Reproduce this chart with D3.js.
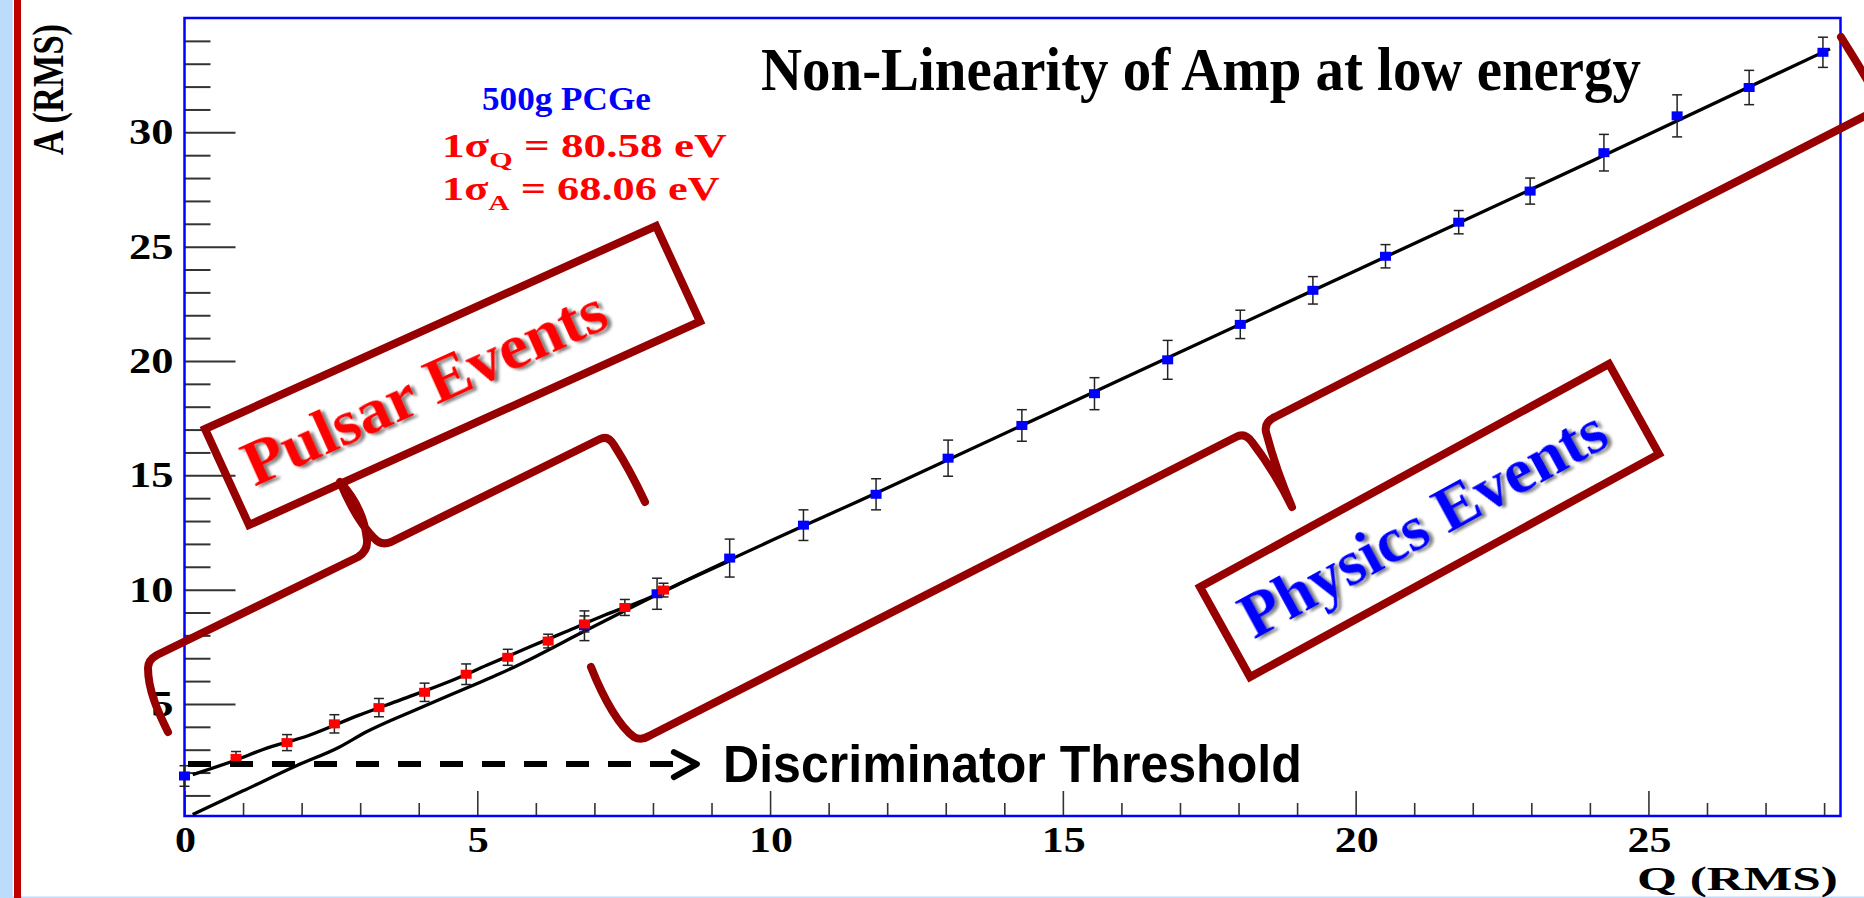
<!DOCTYPE html>
<html><head><meta charset="utf-8">
<script src="https://cdn.jsdelivr.net/npm/d3@7"></script>
<style>html,body{margin:0;padding:0;background:#fff;overflow:hidden}</style>
</head><body><svg id="c" width="1864" height="898"></svg>
<script>
// ---------------- data ----------------
const blueQ   = [0, 6.83, 8.07, 9.31, 10.57, 11.81, 13.04, 14.30, 15.54, 16.79, 18.03, 19.27, 20.51, 21.76, 22.98, 24.24, 25.49, 26.72, 27.98];
const blueA   = [1.85, 8.42, 9.82, 11.38, 12.82, 14.17, 15.75, 17.18, 18.57, 20.05, 21.60, 23.09, 24.58, 26.07, 27.43, 29.11, 30.72, 31.96, 33.50];
const blueErr = [0.45, 0.65, 0.68, 0.83, 0.67, 0.68, 0.79, 0.69, 0.70, 0.85, 0.62, 0.60, 0.51, 0.51, 0.57, 0.80, 0.92, 0.75, 0.66];

const redQ   = [0.88, 1.75, 2.56, 3.32, 4.10, 4.81, 5.52, 6.21, 6.83, 7.52, 8.18];
const redA   = [2.62, 3.31, 4.13, 4.84, 5.51, 6.30, 7.04, 7.75, 8.50, 9.22, 9.98];
const redErr = [0.30, 0.35, 0.40, 0.40, 0.40, 0.45, 0.35, 0.30, 0.35, 0.35, 0.30];

const physFitQ = [0.14, 1.0, 1.92, 2.64, 3.1, 4.0, 4.93, 5.39, 6.0, 6.76, 8.16, 12.0, 16.0, 20.0, 24.0, 28.1];
const physFitA = [0.17, 1.2, 2.31, 3.11, 3.77, 4.8, 5.82, 6.33, 7.08, 8.09, 9.90, 14.45, 19.2, 23.95, 28.7, 33.65];

const pulsFitQ = [0.14, 0.88, 1.33, 2.12, 2.97, 3.70, 4.50, 5.17, 5.90, 6.51, 7.18, 7.85, 8.63, 9.30];
const pulsFitA = [1.91, 2.55, 3.00, 3.62, 4.50, 5.19, 5.96, 6.70, 7.50, 8.16, 8.89, 9.55, 10.46, 11.25];

const xTickValues = [0, 5, 10, 15, 20, 25];
const xTickLabels = ["0", "5", "10", "15", "20", "25"];
const yTickValues = [5, 10, 15, 20, 25, 30];
const yTickLabels = ["5", "10", "15", "20", "25", "30"];

const thresholdA = 2.37;
const thresholdQ = [0.06, 8.75];

const titleText = "Non-Linearity of Amp at low energy";
const xTitle = "Q (RMS)";
const yTitle = "A (RMS)";
const detectorLabel = "500g PCGe";
const sigmaQ = ["1σ", "Q", " = 80.58 eV"];
const sigmaA = ["1σ", "A", " = 68.06 eV"];
const pulsarLabel = "Pulsar Events";
const physicsLabel = "Physics Events";
const thresholdLabel = "Discriminator Threshold";

// ---------------- drawing ----------------
const svg = d3.select("#c");
const serif = "'Liberation Serif','Times New Roman',serif";
const sans = "'Liberation Sans',Arial,sans-serif";
const darkRed = "#960000";

const x = d3.scaleLinear().domain([0, 28.28]).range([184.5, 1840.5]);
const y = d3.scaleLinear().domain([0.1, 35]).range([816, 18]);

function fitText(t, left, width) {
  const b = t.node().getBBox();
  const k = width / b.width;
  t.attr("transform", `translate(${left},0) scale(${k},1) translate(${-b.x},0)`);
}

const defs = svg.append("defs");
const f = defs.append("filter").attr("id", "shadow").attr("x", "-10%").attr("y", "-20%").attr("width", "130%").attr("height", "150%");
f.append("feDropShadow").attr("dx", 3).attr("dy", 3).attr("stdDeviation", 1.6)
  .attr("flood-color", "#555").attr("flood-opacity", 0.75);

// page decorations
svg.append("rect").attr("x", 0).attr("y", 0).attr("width", 1864).attr("height", 898).attr("fill", "#fff");
svg.append("rect").attr("x", 0).attr("y", 0).attr("width", 12.7).attr("height", 898).attr("fill", "#bddcfb");
svg.append("rect").attr("x", 0).attr("y", 896.5).attr("width", 1864).attr("height", 1.5).attr("fill", "#bddcfb");
svg.append("rect").attr("x", 14).attr("y", 0).attr("width", 7).attr("height", 898).attr("fill", "#c00000");

// axes ticks (inside the frame)
const tickCol = "#333";
function styleAxis(g, w) {
  g.select(".domain").remove();
  g.selectAll("text").remove();
  g.selectAll("line").attr("stroke", tickCol).attr("stroke-width", w);
}
const yMinor = d3.range(1, 35).filter(v => v % 5 !== 0);
svg.append("g").attr("transform", `translate(${x.range()[0]},0)`)
  .call(d3.axisRight(y).tickValues(yMinor).tickSize(26)).call(g => styleAxis(g, 2));
svg.append("g").attr("transform", `translate(${x.range()[0]},0)`)
  .call(d3.axisRight(y).tickValues(yTickValues).tickSize(51)).call(g => styleAxis(g, 2));
const xMinor = d3.range(1, 29).filter(v => v % 5 !== 0);
svg.append("g").attr("transform", `translate(0,${y.range()[0]})`)
  .call(d3.axisTop(x).tickValues(xMinor).tickSize(13)).call(g => styleAxis(g, 1.6));
svg.append("g").attr("transform", `translate(0,${y.range()[0]})`)
  .call(d3.axisTop(x).tickValues(xTickValues).tickSize(25)).call(g => styleAxis(g, 1.6));

// frame
svg.append("rect").attr("x", x.range()[0]).attr("y", y.range()[1])
  .attr("width", x.range()[1] - x.range()[0]).attr("height", y.range()[0] - y.range()[1])
  .attr("fill", "none").attr("stroke", "#0000ff").attr("stroke-width", 2.5);

// tick labels
yTickValues.forEach((v, i) => {
  const t = svg.append("text").attr("x", 0).attr("y", y(v) + 12)
    .attr("font-family", serif).attr("font-weight", "bold").attr("font-size", 35)
    .attr("fill", "#000").text(yTickLabels[i]);
  const w = yTickLabels[i].length === 1 ? 22 : 44.5;
  fitText(t, 173.5 - w, w);
});
xTickValues.forEach((v, i) => {
  const t = svg.append("text").attr("x", 0).attr("y", 852)
    .attr("font-family", serif).attr("font-weight", "bold").attr("font-size", 35)
    .attr("fill", "#000").text(xTickLabels[i]);
  const w = xTickLabels[i].length === 1 ? 21 : 44;
  fitText(t, x(v) + 1 - w / 2, w);
});

// axis titles
{
  const t = svg.append("text").attr("x", 0).attr("y", 890)
    .attr("font-family", serif).attr("font-weight", "bold").attr("font-size", 33).text(xTitle);
  fitText(t, 1637, 201);
}
svg.append("text")
  .attr("transform", "translate(63,155) scale(1.27,1) rotate(-90)")
  .attr("font-family", serif).attr("font-weight", "bold").attr("font-size", 35)
  .attr("textLength", 131).attr("lengthAdjust", "spacingAndGlyphs").text(yTitle);

// fit curves
const line = d3.line().x(d => x(d[0])).y(d => y(d[1])).curve(d3.curveMonotoneX);
svg.append("path").attr("d", line(physFitQ.map((q, i) => [q, physFitA[i]])))
  .attr("fill", "none").attr("stroke", "#000").attr("stroke-width", 3.3);
svg.append("path").attr("d", line(pulsFitQ.map((q, i) => [q, pulsFitA[i]])))
  .attr("fill", "none").attr("stroke", "#000").attr("stroke-width", 3.3);

// error bars + markers
function series(Q, A, E, color) {
  const g = svg.append("g");
  Q.forEach((q, i) => {
    const cx = x(q), y1 = y(A[i] + E[i]), y2 = y(A[i] - E[i]);
    g.append("line").attr("x1", cx).attr("x2", cx).attr("y1", y1).attr("y2", y2).attr("stroke", "#222").attr("stroke-width", 1.5);
    g.append("line").attr("x1", cx - 5).attr("x2", cx + 5).attr("y1", y1).attr("y2", y1).attr("stroke", "#222").attr("stroke-width", 1.5);
    g.append("line").attr("x1", cx - 5).attr("x2", cx + 5).attr("y1", y2).attr("y2", y2).attr("stroke", "#222").attr("stroke-width", 1.5);
  });
  Q.forEach((q, i) => {
    g.append("rect").attr("x", x(q) - 5.5).attr("y", y(A[i]) - 4.5).attr("width", 11).attr("height", 9).attr("fill", color);
  });
}
series(blueQ, blueA, blueErr, "#0000ff");
series(redQ, redA, redErr, "#ff0000");

// discriminator threshold arrow
{
  const ty = y(thresholdA);
  const x0 = x(thresholdQ[0]), x1 = x(thresholdQ[1]);
  svg.append("line").attr("x1", x0).attr("x2", x1 - 4).attr("y1", ty).attr("y2", ty)
    .attr("stroke", "#000").attr("stroke-width", 6).attr("stroke-dasharray", "23,19");
  svg.append("path").attr("d", `M${x1 - 23},${ty - 12} L${x1},${ty} L${x1 - 23},${ty + 13}`)
    .attr("fill", "none").attr("stroke", "#000").attr("stroke-width", 6)
    .attr("stroke-linecap", "round").attr("stroke-linejoin", "round");
  const t = svg.append("text").attr("x", 0).attr("y", 782)
    .attr("font-family", sans).attr("font-weight", "bold").attr("font-size", 51).text(thresholdLabel);
  fitText(t, 723, 579);
}

// text annotations in the plot
{
  const t = svg.append("text").attr("x", 0).attr("y", 90)
    .attr("font-family", serif).attr("font-weight", "bold").attr("font-size", 61).text(titleText);
  fitText(t, 761, 880);
  const d = svg.append("text").attr("x", 0).attr("y", 110).attr("fill", "#0000ff")
    .attr("font-family", serif).attr("font-weight", "bold").attr("font-size", 34).text(detectorLabel);
  fitText(d, 482, 169);
  [[sigmaQ, 157, 285], [sigmaA, 200, 278]].forEach(([parts, base, w]) => {
    const s = svg.append("text").attr("x", 0).attr("y", base).attr("fill", "#ff0000")
      .attr("font-family", serif).attr("font-weight", "bold").attr("font-size", 33);
    s.append("tspan").text(parts[0]);
    s.append("tspan").attr("dy", 10).attr("font-size", 22).text(parts[1]);
    s.append("tspan").attr("dy", -10).text(parts[2]);
    fitText(s, 442, w);
  });
}

// annotation boxes & braces (overlay layout, in pixels)
const pulsarBox = [[205, 429], [656, 226], [700, 321.5], [249, 525]];
const physicsBox = [[1200, 587], [1609, 364], [1659, 454], [1250, 677]];
[pulsarBox, physicsBox].forEach(b => {
  svg.append("path").attr("d", "M" + b.map(p => p.join(",")).join("L") + "Z")
    .attr("fill", "none").attr("stroke", darkRed).attr("stroke-width", 8).attr("stroke-linejoin", "miter");
});
const pulsarBrace = "M168,732 C158,712 148,690 148,668 Q148,660 157,655 L358,557 Q368,551 367,540 Q364,508 340,482 Q356,520 374,538 Q381,546 391,542 L600,439 Q608,435 614,445 Q630,470 645,502";
const physicsBrace = "M591,667 C604,700 620,727 634,737 Q641,741 649,736 L1236,437 Q1245,432 1252,442 Q1275,472 1292,507 Q1276,470 1266,432 Q1264,422 1275,417 L1873,112 Q1882,108 1878,100 C1866,76 1852,55 1841,37";
[pulsarBrace, physicsBrace].forEach(d => {
  svg.append("path").attr("d", d).attr("fill", "none").attr("stroke", darkRed)
    .attr("stroke-width", 8).attr("stroke-linecap", "round").attr("stroke-linejoin", "round");
});
function boxText(txt, tx, ty, ang, w, color) {
  const g = svg.append("g").attr("transform", `translate(${tx},${ty}) rotate(${ang})`);
  const t = g.append("text").attr("x", 0).attr("y", 0).attr("fill", color)
    .attr("font-family", serif).attr("font-weight", "bold").attr("font-size", 64)
    .attr("filter", "url(#shadow)").text(txt);
  fitText(t, 0, w);
}
boxText(pulsarLabel, 254.4, 486.8, -24.23, 392, "#ff0000");
boxText(physicsLabel, 1254, 639.5, -28.63, 408, "#0000ff");
</script></body></html>
